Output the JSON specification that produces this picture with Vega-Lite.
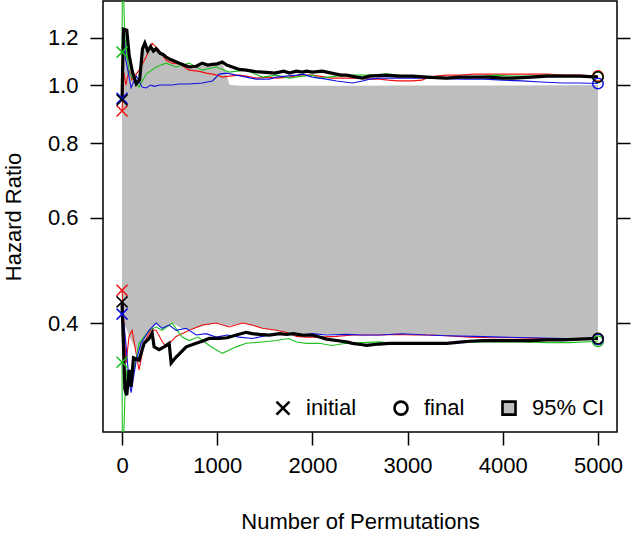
{
  "$schema": "https://vega.github.io/schema/vega-lite/v6.json",
  "width": 514,
  "height": 431,
  "autosize": "none",
  "padding": {"left": 103, "top": 1, "right": 15, "bottom": 104},
  "config": {
    "font": "Liberation Sans",
    "view": {"stroke": "black", "strokeWidth": 1.5},
    "axis": {"domain": false, "grid": false, "tickColor": "black", "tickWidth": 1.5, "tickSize": 13, "labelFontSize": 22, "labelColor": "black", "titleFontSize": 22, "titleFontWeight": "normal", "titleColor": "black"},
    "legend": {"orient": "bottom-right", "direction": "horizontal", "offset": 12, "padding": 0, "labelFontSize": 22, "labelColor": "black", "labelOffset": 12, "columnPadding": 32, "symbolSize": 170, "symbolStrokeWidth": 2.6, "symbolOpacity": 1}
  },
  "datasets": {
    "band": [
      {"x": 0, "hi": 1.20, "lo": 0.40}, {"x": 15, "hi": 1.24, "lo": 0.40}, {"x": 50, "hi": 1.235, "lo": 0.39}, {"x": 75, "hi": 1.12, "lo": 0.38},
      {"x": 110, "hi": 1.05, "lo": 0.37}, {"x": 150, "hi": 1.005, "lo": 0.36}, {"x": 185, "hi": 1.02, "lo": 0.36}, {"x": 215, "hi": 1.15, "lo": 0.365},
      {"x": 240, "hi": 1.175, "lo": 0.372}, {"x": 270, "hi": 1.14, "lo": 0.38}, {"x": 300, "hi": 1.16, "lo": 0.389}, {"x": 358, "hi": 1.15, "lo": 0.40},
      {"x": 430, "hi": 1.125, "lo": 0.392}, {"x": 530, "hi": 1.1, "lo": 0.40}, {"x": 650, "hi": 1.08, "lo": 0.39}, {"x": 780, "hi": 1.075, "lo": 0.392},
      {"x": 900, "hi": 1.08, "lo": 0.397}, {"x": 1000, "hi": 1.085, "lo": 0.40}, {"x": 1053, "hi": 1.09, "lo": 0.398}, {"x": 1100, "hi": 1.04, "lo": 0.394},
      {"x": 1130, "hi": 1.0, "lo": 0.396}, {"x": 1263, "hi": 0.997, "lo": 0.40}, {"x": 1474, "hi": 0.997, "lo": 0.392}, {"x": 1726, "hi": 0.997, "lo": 0.386},
      {"x": 2000, "hi": 0.997, "lo": 0.384}, {"x": 2400, "hi": 0.997, "lo": 0.383}, {"x": 2900, "hi": 0.998, "lo": 0.384}, {"x": 3500, "hi": 0.998, "lo": 0.381},
      {"x": 4100, "hi": 0.998, "lo": 0.379}, {"x": 4700, "hi": 0.999, "lo": 0.377}, {"x": 5000, "hi": 1.0, "lo": 0.376}
    ],
    "lines": [
      {"s": "black", "b": "u", "x": 0, "hr": 0.944}, {"s": "black", "b": "u", "x": 15, "hr": 1.24}, {"s": "black", "b": "u", "x": 50, "hr": 1.235}, {"s": "black", "b": "u", "x": 75, "hr": 1.12},
      {"s": "black", "b": "u", "x": 110, "hr": 1.05}, {"s": "black", "b": "u", "x": 150, "hr": 1.005}, {"s": "black", "b": "u", "x": 185, "hr": 1.02}, {"s": "black", "b": "u", "x": 215, "hr": 1.15},
      {"s": "black", "b": "u", "x": 240, "hr": 1.175}, {"s": "black", "b": "u", "x": 270, "hr": 1.14}, {"s": "black", "b": "u", "x": 300, "hr": 1.16}, {"s": "black", "b": "u", "x": 330, "hr": 1.14},
      {"s": "black", "b": "u", "x": 358, "hr": 1.15}, {"s": "black", "b": "u", "x": 400, "hr": 1.13}, {"s": "black", "b": "u", "x": 430, "hr": 1.125}, {"s": "black", "b": "u", "x": 463, "hr": 1.114},
      {"s": "black", "b": "u", "x": 500, "hr": 1.105}, {"s": "black", "b": "u", "x": 530, "hr": 1.1}, {"s": "black", "b": "u", "x": 600, "hr": 1.088}, {"s": "black", "b": "u", "x": 650, "hr": 1.08},
      {"s": "black", "b": "u", "x": 705, "hr": 1.072}, {"s": "black", "b": "u", "x": 780, "hr": 1.075}, {"s": "black", "b": "u", "x": 842, "hr": 1.088}, {"s": "black", "b": "u", "x": 900, "hr": 1.08},
      {"s": "black", "b": "u", "x": 950, "hr": 1.083}, {"s": "black", "b": "u", "x": 1000, "hr": 1.085}, {"s": "black", "b": "u", "x": 1053, "hr": 1.093}, {"s": "black", "b": "u", "x": 1100, "hr": 1.08},
      {"s": "black", "b": "u", "x": 1158, "hr": 1.072}, {"s": "black", "b": "u", "x": 1232, "hr": 1.062}, {"s": "black", "b": "u", "x": 1305, "hr": 1.059}, {"s": "black", "b": "u", "x": 1400, "hr": 1.053},
      {"s": "black", "b": "u", "x": 1474, "hr": 1.051}, {"s": "black", "b": "u", "x": 1550, "hr": 1.049}, {"s": "black", "b": "u", "x": 1600, "hr": 1.047}, {"s": "black", "b": "u", "x": 1653, "hr": 1.051},
      {"s": "black", "b": "u", "x": 1700, "hr": 1.055}, {"s": "black", "b": "u", "x": 1758, "hr": 1.047}, {"s": "black", "b": "u", "x": 1830, "hr": 1.055}, {"s": "black", "b": "u", "x": 1895, "hr": 1.051},
      {"s": "black", "b": "u", "x": 1937, "hr": 1.055}, {"s": "black", "b": "u", "x": 2000, "hr": 1.051}, {"s": "black", "b": "u", "x": 2105, "hr": 1.055}, {"s": "black", "b": "u", "x": 2200, "hr": 1.047},
      {"s": "black", "b": "u", "x": 2300, "hr": 1.039}, {"s": "black", "b": "u", "x": 2358, "hr": 1.039}, {"s": "black", "b": "u", "x": 2463, "hr": 1.031}, {"s": "black", "b": "u", "x": 2526, "hr": 1.027},
      {"s": "black", "b": "u", "x": 2600, "hr": 1.035}, {"s": "black", "b": "u", "x": 2779, "hr": 1.039}, {"s": "black", "b": "u", "x": 2900, "hr": 1.035}, {"s": "black", "b": "u", "x": 3053, "hr": 1.035},
      {"s": "black", "b": "u", "x": 3200, "hr": 1.031}, {"s": "black", "b": "u", "x": 3411, "hr": 1.027}, {"s": "black", "b": "u", "x": 3547, "hr": 1.031}, {"s": "black", "b": "u", "x": 3700, "hr": 1.031},
      {"s": "black", "b": "u", "x": 3850, "hr": 1.031}, {"s": "black", "b": "u", "x": 4000, "hr": 1.027}, {"s": "black", "b": "u", "x": 4105, "hr": 1.027}, {"s": "black", "b": "u", "x": 4300, "hr": 1.031},
      {"s": "black", "b": "u", "x": 4463, "hr": 1.035}, {"s": "black", "b": "u", "x": 4600, "hr": 1.035}, {"s": "black", "b": "u", "x": 4811, "hr": 1.035}, {"s": "black", "b": "u", "x": 5000, "hr": 1.031},

      {"s": "black", "b": "l", "x": 0, "hr": 0.432}, {"s": "black", "b": "l", "x": 30, "hr": 0.31}, {"s": "black", "b": "l", "x": 50, "hr": 0.303}, {"s": "black", "b": "l", "x": 74, "hr": 0.334},
      {"s": "black", "b": "l", "x": 95, "hr": 0.313}, {"s": "black", "b": "l", "x": 120, "hr": 0.35}, {"s": "black", "b": "l", "x": 179, "hr": 0.347}, {"s": "black", "b": "l", "x": 232, "hr": 0.37},
      {"s": "black", "b": "l", "x": 284, "hr": 0.377}, {"s": "black", "b": "l", "x": 316, "hr": 0.385}, {"s": "black", "b": "l", "x": 337, "hr": 0.365}, {"s": "black", "b": "l", "x": 389, "hr": 0.361},
      {"s": "black", "b": "l", "x": 442, "hr": 0.365}, {"s": "black", "b": "l", "x": 495, "hr": 0.37}, {"s": "black", "b": "l", "x": 516, "hr": 0.343}, {"s": "black", "b": "l", "x": 568, "hr": 0.351},
      {"s": "black", "b": "l", "x": 600, "hr": 0.355}, {"s": "black", "b": "l", "x": 674, "hr": 0.365}, {"s": "black", "b": "l", "x": 779, "hr": 0.37}, {"s": "black", "b": "l", "x": 842, "hr": 0.373},
      {"s": "black", "b": "l", "x": 916, "hr": 0.377}, {"s": "black", "b": "l", "x": 1021, "hr": 0.377}, {"s": "black", "b": "l", "x": 1105, "hr": 0.378}, {"s": "black", "b": "l", "x": 1200, "hr": 0.382},
      {"s": "black", "b": "l", "x": 1305, "hr": 0.386}, {"s": "black", "b": "l", "x": 1368, "hr": 0.384}, {"s": "black", "b": "l", "x": 1442, "hr": 0.383}, {"s": "black", "b": "l", "x": 1547, "hr": 0.382},
      {"s": "black", "b": "l", "x": 1653, "hr": 0.384}, {"s": "black", "b": "l", "x": 1726, "hr": 0.383}, {"s": "black", "b": "l", "x": 1800, "hr": 0.384}, {"s": "black", "b": "l", "x": 1895, "hr": 0.382},
      {"s": "black", "b": "l", "x": 2000, "hr": 0.382}, {"s": "black", "b": "l", "x": 2074, "hr": 0.379}, {"s": "black", "b": "l", "x": 2147, "hr": 0.376}, {"s": "black", "b": "l", "x": 2253, "hr": 0.374},
      {"s": "black", "b": "l", "x": 2358, "hr": 0.372}, {"s": "black", "b": "l", "x": 2421, "hr": 0.37}, {"s": "black", "b": "l", "x": 2526, "hr": 0.368}, {"s": "black", "b": "l", "x": 2568, "hr": 0.367},
      {"s": "black", "b": "l", "x": 2700, "hr": 0.369}, {"s": "black", "b": "l", "x": 2811, "hr": 0.37}, {"s": "black", "b": "l", "x": 2947, "hr": 0.37}, {"s": "black", "b": "l", "x": 3053, "hr": 0.37},
      {"s": "black", "b": "l", "x": 3200, "hr": 0.37}, {"s": "black", "b": "l", "x": 3305, "hr": 0.37}, {"s": "black", "b": "l", "x": 3411, "hr": 0.37}, {"s": "black", "b": "l", "x": 3579, "hr": 0.372},
      {"s": "black", "b": "l", "x": 3653, "hr": 0.373}, {"s": "black", "b": "l", "x": 3800, "hr": 0.374}, {"s": "black", "b": "l", "x": 3937, "hr": 0.374}, {"s": "black", "b": "l", "x": 4100, "hr": 0.374},
      {"s": "black", "b": "l", "x": 4284, "hr": 0.374}, {"s": "black", "b": "l", "x": 4463, "hr": 0.375}, {"s": "black", "b": "l", "x": 4632, "hr": 0.375}, {"s": "black", "b": "l", "x": 4811, "hr": 0.376},
      {"s": "black", "b": "l", "x": 5000, "hr": 0.377},

      {"s": "red", "b": "u", "x": 0, "hr": 0.905}, {"s": "red", "b": "u", "x": 20, "hr": 1.05}, {"s": "red", "b": "u", "x": 40, "hr": 1.0}, {"s": "red", "b": "u", "x": 74, "hr": 1.06},
      {"s": "red", "b": "u", "x": 105, "hr": 1.02}, {"s": "red", "b": "u", "x": 179, "hr": 1.059}, {"s": "red", "b": "u", "x": 253, "hr": 1.114}, {"s": "red", "b": "u", "x": 316, "hr": 1.175},
      {"s": "red", "b": "u", "x": 389, "hr": 1.144}, {"s": "red", "b": "u", "x": 463, "hr": 1.1}, {"s": "red", "b": "u", "x": 526, "hr": 1.088}, {"s": "red", "b": "u", "x": 600, "hr": 1.085},
      {"s": "red", "b": "u", "x": 705, "hr": 1.059}, {"s": "red", "b": "u", "x": 800, "hr": 1.055}, {"s": "red", "b": "u", "x": 884, "hr": 1.047}, {"s": "red", "b": "u", "x": 989, "hr": 1.04},
      {"s": "red", "b": "u", "x": 1053, "hr": 1.031}, {"s": "red", "b": "u", "x": 1126, "hr": 1.035}, {"s": "red", "b": "u", "x": 1232, "hr": 1.039}, {"s": "red", "b": "u", "x": 1305, "hr": 1.035},
      {"s": "red", "b": "u", "x": 1411, "hr": 1.027}, {"s": "red", "b": "u", "x": 1550, "hr": 1.031}, {"s": "red", "b": "u", "x": 1621, "hr": 1.027}, {"s": "red", "b": "u", "x": 1758, "hr": 1.031},
      {"s": "red", "b": "u", "x": 1863, "hr": 1.039}, {"s": "red", "b": "u", "x": 2000, "hr": 1.039}, {"s": "red", "b": "u", "x": 2074, "hr": 1.035}, {"s": "red", "b": "u", "x": 2200, "hr": 1.027},
      {"s": "red", "b": "u", "x": 2300, "hr": 1.027}, {"s": "red", "b": "u", "x": 2463, "hr": 1.027}, {"s": "red", "b": "u", "x": 2600, "hr": 1.023}, {"s": "red", "b": "u", "x": 2705, "hr": 1.023},
      {"s": "red", "b": "u", "x": 2800, "hr": 1.019}, {"s": "red", "b": "u", "x": 2900, "hr": 1.016}, {"s": "red", "b": "u", "x": 3053, "hr": 1.016}, {"s": "red", "b": "u", "x": 3150, "hr": 1.019},
      {"s": "red", "b": "u", "x": 3200, "hr": 1.027}, {"s": "red", "b": "u", "x": 3300, "hr": 1.035}, {"s": "red", "b": "u", "x": 3411, "hr": 1.039}, {"s": "red", "b": "u", "x": 3547, "hr": 1.039},
      {"s": "red", "b": "u", "x": 3700, "hr": 1.043}, {"s": "red", "b": "u", "x": 3850, "hr": 1.043}, {"s": "red", "b": "u", "x": 4000, "hr": 1.043}, {"s": "red", "b": "u", "x": 4200, "hr": 1.043},
      {"s": "red", "b": "u", "x": 4463, "hr": 1.043}, {"s": "red", "b": "u", "x": 4650, "hr": 1.039}, {"s": "red", "b": "u", "x": 4811, "hr": 1.039}, {"s": "red", "b": "u", "x": 5000, "hr": 1.035},

      {"s": "red", "b": "l", "x": 0, "hr": 0.454}, {"s": "red", "b": "l", "x": 20, "hr": 0.40}, {"s": "red", "b": "l", "x": 42, "hr": 0.343}, {"s": "red", "b": "l", "x": 74, "hr": 0.38},
      {"s": "red", "b": "l", "x": 105, "hr": 0.389}, {"s": "red", "b": "l", "x": 179, "hr": 0.334}, {"s": "red", "b": "l", "x": 232, "hr": 0.37}, {"s": "red", "b": "l", "x": 300, "hr": 0.389},
      {"s": "red", "b": "l", "x": 358, "hr": 0.389}, {"s": "red", "b": "l", "x": 421, "hr": 0.373}, {"s": "red", "b": "l", "x": 463, "hr": 0.365}, {"s": "red", "b": "l", "x": 568, "hr": 0.38},
      {"s": "red", "b": "l", "x": 705, "hr": 0.389}, {"s": "red", "b": "l", "x": 842, "hr": 0.397}, {"s": "red", "b": "l", "x": 989, "hr": 0.40}, {"s": "red", "b": "l", "x": 1126, "hr": 0.394},
      {"s": "red", "b": "l", "x": 1263, "hr": 0.40}, {"s": "red", "b": "l", "x": 1368, "hr": 0.397}, {"s": "red", "b": "l", "x": 1474, "hr": 0.392}, {"s": "red", "b": "l", "x": 1621, "hr": 0.389},
      {"s": "red", "b": "l", "x": 1726, "hr": 0.386}, {"s": "red", "b": "l", "x": 1832, "hr": 0.38}, {"s": "red", "b": "l", "x": 1937, "hr": 0.379}, {"s": "red", "b": "l", "x": 2074, "hr": 0.379},
      {"s": "red", "b": "l", "x": 2253, "hr": 0.38}, {"s": "red", "b": "l", "x": 2421, "hr": 0.382}, {"s": "red", "b": "l", "x": 2600, "hr": 0.382}, {"s": "red", "b": "l", "x": 2705, "hr": 0.382},
      {"s": "red", "b": "l", "x": 2884, "hr": 0.383}, {"s": "red", "b": "l", "x": 3053, "hr": 0.382}, {"s": "red", "b": "l", "x": 3232, "hr": 0.382}, {"s": "red", "b": "l", "x": 3411, "hr": 0.381},
      {"s": "red", "b": "l", "x": 3653, "hr": 0.379}, {"s": "red", "b": "l", "x": 3900, "hr": 0.378}, {"s": "red", "b": "l", "x": 4105, "hr": 0.378}, {"s": "red", "b": "l", "x": 4400, "hr": 0.377},
      {"s": "red", "b": "l", "x": 4632, "hr": 0.377}, {"s": "red", "b": "l", "x": 4811, "hr": 0.376}, {"s": "red", "b": "l", "x": 5000, "hr": 0.376},

      {"s": "green", "b": "u", "x": 0, "hr": 1.135}, {"s": "green", "b": "u", "x": 5, "hr": 1.6}, {"s": "green", "b": "u", "x": 30, "hr": 1.2}, {"s": "green", "b": "u", "x": 74, "hr": 1.05},
      {"s": "green", "b": "u", "x": 105, "hr": 1.031}, {"s": "green", "b": "u", "x": 179, "hr": 0.992}, {"s": "green", "b": "u", "x": 253, "hr": 1.043}, {"s": "green", "b": "u", "x": 358, "hr": 1.072},
      {"s": "green", "b": "u", "x": 463, "hr": 1.088}, {"s": "green", "b": "u", "x": 568, "hr": 1.072}, {"s": "green", "b": "u", "x": 705, "hr": 1.088}, {"s": "green", "b": "u", "x": 842, "hr": 1.059},
      {"s": "green", "b": "u", "x": 989, "hr": 1.072}, {"s": "green", "b": "u", "x": 1126, "hr": 1.051}, {"s": "green", "b": "u", "x": 1305, "hr": 1.059}, {"s": "green", "b": "u", "x": 1474, "hr": 1.031},
      {"s": "green", "b": "u", "x": 1621, "hr": 1.039}, {"s": "green", "b": "u", "x": 1758, "hr": 1.027}, {"s": "green", "b": "u", "x": 1895, "hr": 1.035}, {"s": "green", "b": "u", "x": 2000, "hr": 1.039},
      {"s": "green", "b": "u", "x": 2074, "hr": 1.027}, {"s": "green", "b": "u", "x": 2253, "hr": 1.035}, {"s": "green", "b": "u", "x": 2421, "hr": 1.039}, {"s": "green", "b": "u", "x": 2600, "hr": 1.039},
      {"s": "green", "b": "u", "x": 2779, "hr": 1.043}, {"s": "green", "b": "u", "x": 2900, "hr": 1.039}, {"s": "green", "b": "u", "x": 3053, "hr": 1.031}, {"s": "green", "b": "u", "x": 3200, "hr": 1.031},
      {"s": "green", "b": "u", "x": 3411, "hr": 1.027}, {"s": "green", "b": "u", "x": 3600, "hr": 1.031}, {"s": "green", "b": "u", "x": 3800, "hr": 1.035}, {"s": "green", "b": "u", "x": 3937, "hr": 1.039},
      {"s": "green", "b": "u", "x": 4105, "hr": 1.035}, {"s": "green", "b": "u", "x": 4300, "hr": 1.035}, {"s": "green", "b": "u", "x": 4463, "hr": 1.039}, {"s": "green", "b": "u", "x": 4632, "hr": 1.037},
      {"s": "green", "b": "u", "x": 4811, "hr": 1.035}, {"s": "green", "b": "u", "x": 5000, "hr": 1.031},

      {"s": "green", "b": "l", "x": 0, "hr": 0.344}, {"s": "green", "b": "l", "x": 5, "hr": 0.22}, {"s": "green", "b": "l", "x": 30, "hr": 0.30}, {"s": "green", "b": "l", "x": 50, "hr": 0.334},
      {"s": "green", "b": "l", "x": 105, "hr": 0.321}, {"s": "green", "b": "l", "x": 179, "hr": 0.37}, {"s": "green", "b": "l", "x": 284, "hr": 0.389}, {"s": "green", "b": "l", "x": 358, "hr": 0.394},
      {"s": "green", "b": "l", "x": 421, "hr": 0.389}, {"s": "green", "b": "l", "x": 526, "hr": 0.40}, {"s": "green", "b": "l", "x": 632, "hr": 0.379}, {"s": "green", "b": "l", "x": 705, "hr": 0.374},
      {"s": "green", "b": "l", "x": 800, "hr": 0.379}, {"s": "green", "b": "l", "x": 916, "hr": 0.367}, {"s": "green", "b": "l", "x": 1053, "hr": 0.356}, {"s": "green", "b": "l", "x": 1200, "hr": 0.365},
      {"s": "green", "b": "l", "x": 1305, "hr": 0.37}, {"s": "green", "b": "l", "x": 1474, "hr": 0.372}, {"s": "green", "b": "l", "x": 1621, "hr": 0.374}, {"s": "green", "b": "l", "x": 1750, "hr": 0.377},
      {"s": "green", "b": "l", "x": 1832, "hr": 0.372}, {"s": "green", "b": "l", "x": 1937, "hr": 0.37}, {"s": "green", "b": "l", "x": 2074, "hr": 0.37}, {"s": "green", "b": "l", "x": 2200, "hr": 0.367},
      {"s": "green", "b": "l", "x": 2358, "hr": 0.37}, {"s": "green", "b": "l", "x": 2526, "hr": 0.371}, {"s": "green", "b": "l", "x": 2705, "hr": 0.372}, {"s": "green", "b": "l", "x": 2900, "hr": 0.369},
      {"s": "green", "b": "l", "x": 3053, "hr": 0.37}, {"s": "green", "b": "l", "x": 3232, "hr": 0.37}, {"s": "green", "b": "l", "x": 3411, "hr": 0.371}, {"s": "green", "b": "l", "x": 3653, "hr": 0.372},
      {"s": "green", "b": "l", "x": 3850, "hr": 0.372}, {"s": "green", "b": "l", "x": 4000, "hr": 0.372}, {"s": "green", "b": "l", "x": 4200, "hr": 0.372}, {"s": "green", "b": "l", "x": 4463, "hr": 0.371},
      {"s": "green", "b": "l", "x": 4705, "hr": 0.371}, {"s": "green", "b": "l", "x": 5000, "hr": 0.373},

      {"s": "blue", "b": "u", "x": 0, "hr": 0.95}, {"s": "blue", "b": "u", "x": 15, "hr": 1.24}, {"s": "blue", "b": "u", "x": 40, "hr": 1.1}, {"s": "blue", "b": "u", "x": 60, "hr": 1.06},
      {"s": "blue", "b": "u", "x": 95, "hr": 0.99}, {"s": "blue", "b": "u", "x": 150, "hr": 1.035}, {"s": "blue", "b": "u", "x": 211, "hr": 0.992}, {"s": "blue", "b": "u", "x": 253, "hr": 0.989},
      {"s": "blue", "b": "u", "x": 300, "hr": 1.0}, {"s": "blue", "b": "u", "x": 337, "hr": 0.995}, {"s": "blue", "b": "u", "x": 400, "hr": 1.0}, {"s": "blue", "b": "u", "x": 463, "hr": 1.0},
      {"s": "blue", "b": "u", "x": 526, "hr": 1.0}, {"s": "blue", "b": "u", "x": 600, "hr": 1.004}, {"s": "blue", "b": "u", "x": 705, "hr": 1.004}, {"s": "blue", "b": "u", "x": 842, "hr": 1.008},
      {"s": "blue", "b": "u", "x": 950, "hr": 1.016}, {"s": "blue", "b": "u", "x": 1021, "hr": 1.043}, {"s": "blue", "b": "u", "x": 1100, "hr": 1.047}, {"s": "blue", "b": "u", "x": 1200, "hr": 1.039},
      {"s": "blue", "b": "u", "x": 1305, "hr": 1.031}, {"s": "blue", "b": "u", "x": 1411, "hr": 1.023}, {"s": "blue", "b": "u", "x": 1547, "hr": 1.023}, {"s": "blue", "b": "u", "x": 1620, "hr": 1.031},
      {"s": "blue", "b": "u", "x": 1726, "hr": 1.035}, {"s": "blue", "b": "u", "x": 1832, "hr": 1.039}, {"s": "blue", "b": "u", "x": 1900, "hr": 1.043}, {"s": "blue", "b": "u", "x": 2000, "hr": 1.031},
      {"s": "blue", "b": "u", "x": 2147, "hr": 1.023}, {"s": "blue", "b": "u", "x": 2253, "hr": 1.016}, {"s": "blue", "b": "u", "x": 2421, "hr": 1.008}, {"s": "blue", "b": "u", "x": 2526, "hr": 1.016},
      {"s": "blue", "b": "u", "x": 2600, "hr": 1.023}, {"s": "blue", "b": "u", "x": 2705, "hr": 1.027}, {"s": "blue", "b": "u", "x": 2850, "hr": 1.027}, {"s": "blue", "b": "u", "x": 3000, "hr": 1.027},
      {"s": "blue", "b": "u", "x": 3200, "hr": 1.027}, {"s": "blue", "b": "u", "x": 3400, "hr": 1.025}, {"s": "blue", "b": "u", "x": 3600, "hr": 1.023}, {"s": "blue", "b": "u", "x": 3800, "hr": 1.023},
      {"s": "blue", "b": "u", "x": 4000, "hr": 1.019}, {"s": "blue", "b": "u", "x": 4200, "hr": 1.016}, {"s": "blue", "b": "u", "x": 4400, "hr": 1.012}, {"s": "blue", "b": "u", "x": 4632, "hr": 1.008},
      {"s": "blue", "b": "u", "x": 4811, "hr": 1.008}, {"s": "blue", "b": "u", "x": 5000, "hr": 1.006},

      {"s": "blue", "b": "l", "x": 0, "hr": 0.414}, {"s": "blue", "b": "l", "x": 20, "hr": 0.40}, {"s": "blue", "b": "l", "x": 40, "hr": 0.37}, {"s": "blue", "b": "l", "x": 74, "hr": 0.32},
      {"s": "blue", "b": "l", "x": 95, "hr": 0.306}, {"s": "blue", "b": "l", "x": 150, "hr": 0.347}, {"s": "blue", "b": "l", "x": 200, "hr": 0.37}, {"s": "blue", "b": "l", "x": 284, "hr": 0.389},
      {"s": "blue", "b": "l", "x": 358, "hr": 0.40}, {"s": "blue", "b": "l", "x": 421, "hr": 0.392}, {"s": "blue", "b": "l", "x": 495, "hr": 0.397}, {"s": "blue", "b": "l", "x": 568, "hr": 0.389},
      {"s": "blue", "b": "l", "x": 674, "hr": 0.392}, {"s": "blue", "b": "l", "x": 779, "hr": 0.382}, {"s": "blue", "b": "l", "x": 884, "hr": 0.384}, {"s": "blue", "b": "l", "x": 989, "hr": 0.379},
      {"s": "blue", "b": "l", "x": 1105, "hr": 0.382}, {"s": "blue", "b": "l", "x": 1232, "hr": 0.379}, {"s": "blue", "b": "l", "x": 1368, "hr": 0.377}, {"s": "blue", "b": "l", "x": 1547, "hr": 0.382},
      {"s": "blue", "b": "l", "x": 1726, "hr": 0.384}, {"s": "blue", "b": "l", "x": 1895, "hr": 0.382}, {"s": "blue", "b": "l", "x": 2000, "hr": 0.384}, {"s": "blue", "b": "l", "x": 2147, "hr": 0.382},
      {"s": "blue", "b": "l", "x": 2358, "hr": 0.383}, {"s": "blue", "b": "l", "x": 2526, "hr": 0.382}, {"s": "blue", "b": "l", "x": 2705, "hr": 0.382}, {"s": "blue", "b": "l", "x": 2947, "hr": 0.384},
      {"s": "blue", "b": "l", "x": 3200, "hr": 0.382}, {"s": "blue", "b": "l", "x": 3411, "hr": 0.381}, {"s": "blue", "b": "l", "x": 3700, "hr": 0.38}, {"s": "blue", "b": "l", "x": 4000, "hr": 0.379},
      {"s": "blue", "b": "l", "x": 4300, "hr": 0.378}, {"s": "blue", "b": "l", "x": 4632, "hr": 0.377}, {"s": "blue", "b": "l", "x": 5000, "hr": 0.376}
    ],
    "marks": [
      {"s": "red", "kind": "initial", "x": 0, "hr": 0.905}, {"s": "red", "kind": "initial", "x": 0, "hr": 0.454},
      {"s": "green", "kind": "initial", "x": 0, "hr": 1.135}, {"s": "green", "kind": "initial", "x": 0, "hr": 0.344},
      {"s": "blue", "kind": "initial", "x": 0, "hr": 0.95}, {"s": "blue", "kind": "initial", "x": 0, "hr": 0.414},
      {"s": "red", "kind": "final", "x": 5000, "hr": 1.035}, {"s": "red", "kind": "final", "x": 5000, "hr": 0.376},
      {"s": "green", "kind": "final", "x": 5000, "hr": 1.031}, {"s": "green", "kind": "final", "x": 5000, "hr": 0.373},
      {"s": "blue", "kind": "final", "x": 5000, "hr": 1.006}, {"s": "blue", "kind": "final", "x": 5000, "hr": 0.376},
      {"s": "black", "kind": "initial", "x": 0, "hr": 0.944}, {"s": "black", "kind": "initial", "x": 0, "hr": 0.434},
      {"s": "black", "kind": "final", "x": 5000, "hr": 1.031}, {"s": "black", "kind": "final", "x": 5000, "hr": 0.377}
    ]
  },
  "resolve": {"axis": {"y": "independent"}},
  "layer": [
    {
      "data": {"name": "band"},
      "mark": {"type": "area", "color": "#bebebe", "opacity": 1},
      "encoding": {
        "x": {"field": "x", "type": "quantitative", "scale": {"domain": [-200, 5200], "nice": false, "zero": false},
              "axis": {"values": [0, 1000, 2000, 3000, 4000, 5000], "format": "d", "labelPadding": 10, "title": "Number of Permutations", "titlePadding": 35}},
        "y": {"field": "hi", "type": "quantitative", "scale": {"type": "log", "domain": [0.263, 1.382], "nice": false, "zero": false},
              "axis": {"orient": "left", "values": [0.4, 0.6, 0.8, 1.0, 1.2], "format": ".1f", "labelPadding": 12, "title": "Hazard Ratio", "titlePadding": 22}},
        "y2": {"field": "lo"}
      }
    },
    {
      "mark": {"type": "rule", "color": "black", "strokeDash": [7, 5], "strokeWidth": 1.4},
      "encoding": {"y": {"datum": 1, "type": "quantitative", "axis": null}}
    },
    {
      "data": {"name": "lines"},
      "transform": [{"filter": "datum.s !== 'black'"}],
      "mark": {"type": "line", "strokeWidth": 1.1, "clip": true},
      "encoding": {
        "x": {"field": "x", "type": "quantitative"},
        "y": {"field": "hr", "type": "quantitative", "axis": null},
        "color": {"field": "s", "type": "nominal", "legend": null,
                  "scale": {"domain": ["red", "green", "blue", "black"], "range": ["#f01010", "#20c020", "#1010e0", "#000000"]}},
        "detail": {"field": "b"}
      }
    },
    {
      "data": {"name": "lines"},
      "transform": [{"filter": "datum.s === 'black'"}],
      "mark": {"type": "line", "strokeWidth": 3.2, "color": "black", "clip": true},
      "encoding": {
        "x": {"field": "x", "type": "quantitative"},
        "y": {"field": "hr", "type": "quantitative",
              "axis": {"orient": "right", "values": [0.4, 0.6, 0.8, 1.0, 1.2], "labels": false, "title": null}},
        "detail": {"field": "b"}
      }
    },
    {
      "data": {"name": "marks"},
      "transform": [{"filter": "datum.kind === 'initial'"}],
      "mark": {"type": "point", "filled": false, "opacity": 1, "shape": "M-1,-1L1,1M-1,1L1,-1", "size": 121},
      "encoding": {
        "x": {"field": "x", "type": "quantitative"},
        "y": {"field": "hr", "type": "quantitative", "axis": null},
        "stroke": {"field": "s", "type": "nominal", "legend": null,
                   "scale": {"domain": ["red", "green", "blue", "black"], "range": ["#f01010", "#20c020", "#1010e0", "#000000"]}},
        "strokeWidth": {"field": "s", "type": "nominal", "legend": null,
                        "scale": {"domain": ["red", "green", "blue", "black"], "range": [1.5, 1.5, 1.5, 3]}}
      }
    },
    {
      "data": {"name": "marks"},
      "transform": [{"filter": "datum.kind === 'final'"}],
      "mark": {"type": "point", "filled": false, "opacity": 1, "shape": "circle", "size": 110},
      "encoding": {
        "x": {"field": "x", "type": "quantitative"},
        "y": {"field": "hr", "type": "quantitative", "axis": null},
        "stroke": {"field": "s", "type": "nominal", "legend": null},
        "strokeWidth": {"field": "s", "type": "nominal", "legend": null}
      }
    },
    {
      "data": {"name": "marks"},
      "mark": {"type": "point", "filled": false, "color": "black", "strokeWidth": 2.6, "opacity": 0},
      "encoding": {
        "x": {"field": "x", "type": "quantitative"},
        "y": {"field": "hr", "type": "quantitative", "axis": null},
        "shape": {"field": "kind", "type": "nominal", "title": null,
                  "scale": {"domain": ["initial", "final", "95% CI"], "range": ["M-1,-1L1,1M-1,1L1,-1", "circle", "square"]}},
        "fill": {"field": "kind", "type": "nominal", "title": null,
                 "scale": {"domain": ["initial", "final", "95% CI"], "range": ["transparent", "transparent", "#bebebe"]}}
      }
    }
  ]
}
